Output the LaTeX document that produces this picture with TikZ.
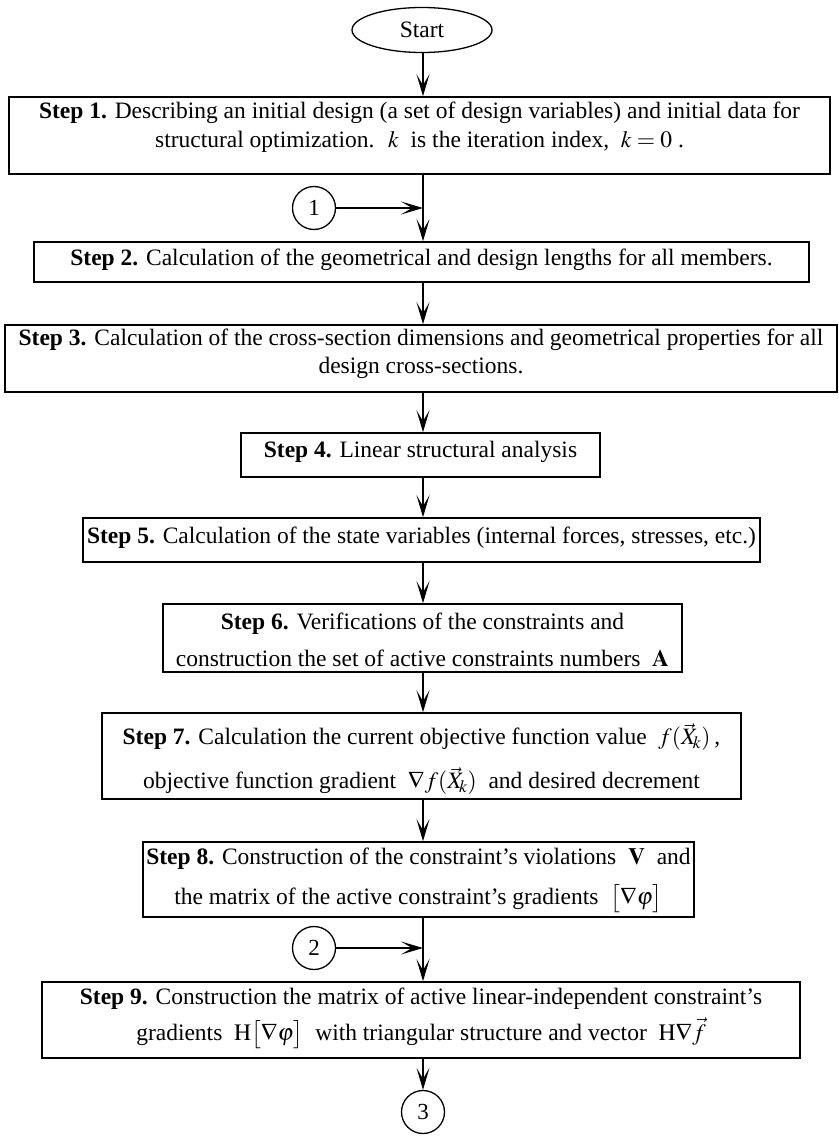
\documentclass[tikz,border=0pt]{standalone}
\usepackage{mathptmx}
\usepackage{fontspec}
\setmainfont{Liberation Serif}
\usetikzlibrary{arrows.meta,shapes.geometric}
\tikzset{
  box/.style={draw, line width=1.6pt, rectangle, inner sep=0pt},
  txt/.style={align=center, inner sep=0pt, font=\fontsize{23.5}{29}\selectfont},
  conn/.style={draw, line width=1.3pt, circle, minimum size=43pt, inner sep=0pt, font=\fontsize{23}{25}\selectfont},
  arr/.style={line width=1.3pt, -{Stealth[length=22pt,width=13pt,inset=11pt]}},
  ln/.style={line width=1.3pt}
}
\begin{document}
\begin{tikzpicture}[x=1pt,y=-1pt]
\useasboundingbox (0,0) rectangle (838,1140);
\coordinate (ax) at (423,0);
% start
\node[draw, line width=1.3pt, ellipse, minimum width=140pt, minimum height=45pt, inner sep=0pt, font=\fontsize{23.5}{25}\selectfont] (start) at (422,30) {Start};
% step 1
\node[box, minimum width=821pt, minimum height=77pt] (s1) at (419.5,135.5) {};
\node[txt] (s1t) at (419.5,127.5) {\textbf{Step 1.} Describing an initial design (a set of design variables) and initial data for\\ structural optimization. \ $k$\ \ is the iteration index, \ $k=0$\ .};
% connector 1
\node[conn] (c1) at (314,208) {1};
\coordinate (j1) at (423,208);
% step 2
\node[box, minimum width=775pt, minimum height=40pt] (s2) at (421.5,262) {};
\node[txt] (s2t) at (421.5,260) {\textbf{Step 2.} Calculation of the geometrical and design lengths for all members.};
% step 3
\node[box, minimum width=832pt, minimum height=67pt] (s3) at (421,358.5) {};
\node[txt, font=\fontsize{23.5}{28}\selectfont] (s3t) at (421,354) {\textbf{Step 3.} Calculation of the cross-section dimensions and geometrical properties for all\\ design cross-sections.};
% step 4
\node[box, minimum width=359pt, minimum height=44pt] (s4) at (420.5,455) {};
\node[txt] (s4t) at (420.5,452) {\textbf{Step 4.} Linear structural analysis};
% step 5
\node[box, minimum width=677pt, minimum height=44pt] (s5) at (421.5,540) {};
\node[txt] (s5t) at (421.5,538) {\textbf{Step 5.} Calculation of the state variables (internal forces, stresses, etc.)};
% step 6
\node[box, minimum width=519pt, minimum height=68pt] (s6) at (422.5,638) {};
\node[txt, font=\fontsize{23.5}{37}\selectfont] (s6t) at (422.5,640) {\textbf{Step 6.} Verifications of the constraints and\\ construction the set of active constraints numbers \ $\mathbf{A}$};
% step 7
\node[box, minimum width=639pt, minimum height=86pt] (s7) at (421.5,756) {};
\node[txt, font=\fontsize{23.5}{44}\selectfont] (s7t) at (421.5,759) {\textbf{Step 7.} Calculation the current objective function value \ $f(\vec{X}_{\!k})$\,,\\ objective function gradient \ $\nabla f(\vec{X}_{\!k})$\ \ and desired decrement};
% step 8
\node[box, minimum width=551pt, minimum height=75pt] (s8) at (418.5,879.5) {};
\node[txt, font=\fontsize{23.5}{40}\selectfont] (s8t) at (418.5,880) {\textbf{Step 8.} Construction of the constraint’s violations \ $\mathbf{V}$\ \ and\\ the matrix of the active constraint’s gradients \ $\bigl[\nabla\varphi\bigr]$};
% connector 2
\node[conn] (c2) at (314,948) {2};
\coordinate (j2) at (423,948);
% step 9
\node[box, minimum width=758pt, minimum height=76pt] (s9) at (421,1020) {};
\node[txt, font=\fontsize{23.5}{36}\selectfont] (s9t) at (421,1018) {\textbf{Step 9.} Construction the matrix of active linear-independent constraint’s\\ gradients \ $\mathrm{H}\bigl[\nabla\varphi\bigr]$\ \ with triangular structure and vector \ $\mathrm{H}\nabla\vec{f}$};
% connector 3
\node[conn] (c3) at (423,1112) {3};
% connectors
\draw[arr] (start.south -| ax) -- (s1.north -| ax);
\draw[arr] (s1.south -| ax) -- (s2.north -| ax);
\draw[arr] (c1.east) -- (j1);
\draw[arr] (s2.south -| ax) -- (s3.north -| ax);
\draw[arr] (s3.south -| ax) -- (s4.north -| ax);
\draw[arr] (s4.south -| ax) -- (s5.north -| ax);
\draw[arr] (s5.south -| ax) -- (s6.north -| ax);
\draw[arr] (s6.south -| ax) -- (s7.north -| ax);
\draw[arr] (s7.south -| ax) -- (s8.north -| ax);
\draw[arr] (s8.south -| ax) -- (s9.north -| ax);
\draw[arr] (c2.east) -- (j2);
\draw[arr] (s9.south -| ax) -- (c3.north);
\end{tikzpicture}
\end{document}
